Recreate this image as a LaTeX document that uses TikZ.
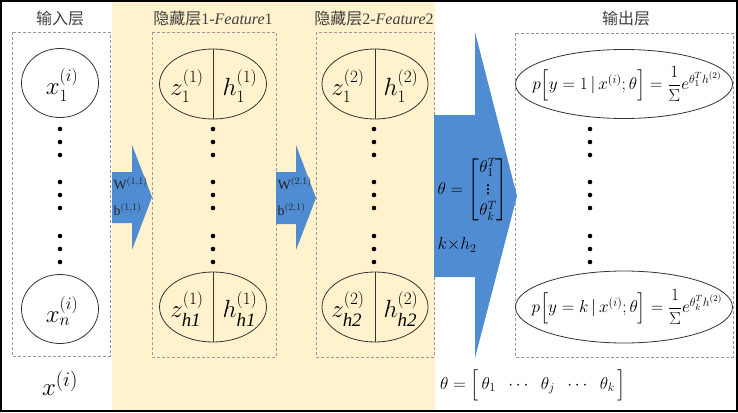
\documentclass[tikz,border=0pt]{standalone}
\usepackage{amsmath}
\usepackage{fontspec}
\setmainfont{Liberation Serif}
\newfontfamily\cjk{Noto Sans CJK SC}
\usetikzlibrary{shapes.geometric}
\definecolor{arrowblue}{RGB}{80,140,210}
\definecolor{paleyellow}{RGB}{255,242,204}
\tikzset{
  layerbox/.style={draw=gray!80, densely dashed, line width=0.6pt},
  unit/.style={ellipse, draw=black!80, line width=0.8pt, inner sep=0pt},
  title/.style={font=\fontsize{16}{19}\selectfont, text=black!75},
  bigmath/.style={font=\fontsize{27}{31}\selectfont},
  outmath/.style={font=\fontsize{18.5}{22}\selectfont},
  arrowtext/.style={font=\fontsize{14}{16}\selectfont, anchor=west, text=black!85},
}
\begin{document}
\begin{tikzpicture}[x=1pt,y=-1pt]
            \useasboundingbox (0,0) rectangle (738,412);
            \fill[paleyellow] (112,2) rectangle (435,410);

            \node[title] (tin) at (60,18) {{\cjk 输入层}};
            \node[title] (th1) at (213,18) {{\cjk 隐藏层}1-\textit{Feature}1};
            \node[title] (th2) at (374,18) {{\cjk 隐藏层}2-\textit{Feature}2};
            \node[title] (tout) at (626,18) {{\cjk 输出层}};

            \draw[layerbox] (12,32) rectangle (110,356);
            \draw[layerbox] (152,32) rectangle (276,357);
            \draw[layerbox] (316,32) rectangle (434,357);
            \draw[layerbox] (515,33) rectangle (733,357);

            \fill[arrowblue] (112,172) -- (132,172) -- (132,145) -- (152,197) -- (132,250) -- (132,223) -- (112,223) -- cycle;
            \fill[arrowblue] (276,172) -- (296,172) -- (296,145) -- (316,198) -- (296,250) -- (296,224) -- (276,224) -- cycle;
            \fill[arrowblue] (434,115) -- (475,115) -- (475,32) -- (517,196) -- (475,358) -- (475,277) -- (434,277) -- cycle;

            \node[unit, minimum width=77pt, minimum height=69pt] (x1) at (60,83) {};
            \node[unit, minimum width=77pt, minimum height=69pt] (xn) at (60,309) {};
            \node[bigmath] (xt1) at (62,85) {$x_1^{(i)}$};
            \node[bigmath] (xtn) at (62,311) {$x_n^{(i)}$};

            \node[unit, minimum width=107pt, minimum height=70pt] (ha1) at (213,84) {};
            \node[unit, minimum width=107pt, minimum height=70pt] (han) at (213,307) {};
            \node[unit, minimum width=106pt, minimum height=70pt] (hb1) at (375,84) {};
            \node[unit, minimum width=106pt, minimum height=70pt] (hbn) at (375,307) {};
            \draw[black!80, line width=0.8pt] (ha1.north) -- (ha1.south);
            \draw[black!80, line width=0.8pt] (han.north) -- (han.south);
            \draw[black!80, line width=0.8pt] (hb1.north) -- (hb1.south);
            \draw[black!80, line width=0.8pt] (hbn.north) -- (hbn.south);

            \node[bigmath] (za1) at (187,86) {$z_1^{(1)}$};
            \node[bigmath] (ya1) at (240,86) {$h_1^{(1)}$};
            \node[bigmath] (zan) at (187,309) {$z_{\mathit{h1}}^{(1)}$};
            \node[bigmath] (yan) at (240,309) {$h_{\mathit{h1}}^{(1)}$};
            \node[bigmath] (zb1) at (348,86) {$z_1^{(2)}$};
            \node[bigmath] (yb1) at (401,86) {$h_1^{(2)}$};
            \node[bigmath] (zbn) at (348,309) {$z_{\mathit{h2}}^{(2)}$};
            \node[bigmath] (ybn) at (401,309) {$h_{\mathit{h2}}^{(2)}$};

            \node[unit, minimum width=217pt, minimum height=69pt] (o1) at (624,84) {};
            \node[unit, minimum width=217pt, minimum height=72pt] (on) at (624,307) {};
            \node[outmath] (ot1) at (627,84) {$p\Big[y=1\,|\,x^{(i)};\theta\Big]=\dfrac{1}{\Sigma}e^{\theta_1^T h^{(2)}}$};
            \node[outmath] (otn) at (627,307) {$p\Big[y=k\,|\,x^{(i)};\theta\Big]=\dfrac{1}{\Sigma}e^{\theta_k^T h^{(2)}}$};

            \foreach \x in {60,213,374,590}
              \foreach \y in {129,142,155,182,195,208,236,249,262}
                \fill (\x,\y) circle (2.3pt);

            \node[arrowtext] (w1) at (110,183) {$\mathrm{W}^{(1,1)}$};
            \node[arrowtext] (b1) at (110,209) {$\mathrm{b}^{(1,1)}$};
            \node[arrowtext] (w2) at (274,183) {$\mathrm{W}^{(2,1)}$};
            \node[arrowtext] (b2) at (274,209) {$\mathrm{b}^{(2,1)}$};

            \node[anchor=west, font=\fontsize{18}{21}\selectfont] (theta) at (434,190) {$\theta=\begin{bmatrix}\theta_1^T\\ {\scriptstyle\vdots}\\ \theta_k^T\end{bmatrix}$};
            \node[anchor=west, font=\fontsize{18}{21}\selectfont] (dim) at (434,245) {$k{\times}h_2$};

            \node[font=\fontsize{28}{32}\selectfont] (xvec) at (60,383) {$x^{(i)}$};
            \node[font=\fontsize{18}{21}\selectfont] (thvec) at (533,385) {$\theta=\Big[\,\theta_1\;\;\cdots\;\;\theta_j\;\;\cdots\;\;\theta_k\,\Big]$};

            \draw[line width=1.5pt] (1,1) rectangle (737,411);
        \end{tikzpicture}
\end{document}
